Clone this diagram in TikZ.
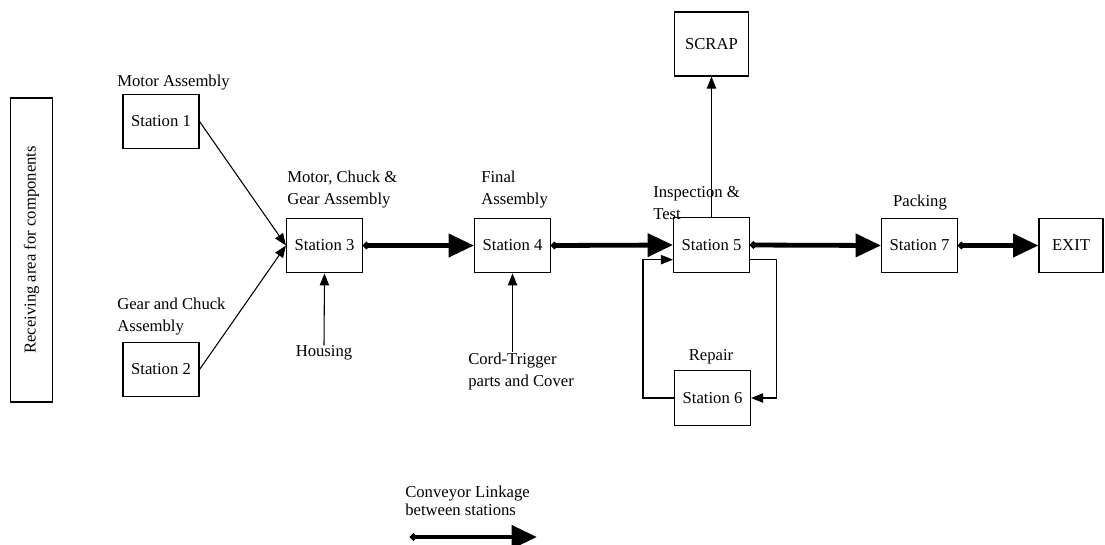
\documentclass[tikz,border=0pt]{standalone}
\usepackage{fontspec}
\setmainfont{Liberation Serif}
\usetikzlibrary{arrows.meta}

\tikzset{
  stn/.style={draw, line width=0.8pt, minimum width=57pt, minimum height=41pt, inner sep=0pt},
  lbl/.style={inner sep=0pt, align=left},
  feed/.style={line width=0.8pt, -{Triangle[length=9pt,width=7pt]}},
  conv/.style={line width=3.6pt, {Circle[length=5pt]}-{Triangle[length=19pt,width=17pt]}},
}

\begin{document}
\begin{tikzpicture}[x=0.75pt,y=-0.75pt,font=\fontsize{12.5}{16.5}\selectfont]
\useasboundingbox (0,0) rectangle (1105,544);

\node[stn, minimum width=31pt, minimum height=228pt](recv) at (31.5,250) {};
\node[rotate=90](recvt) at (31.5,250) {Receiving area for components};

\node[stn](s1) at (161,121.5) {Station 1};
\node[stn](s2) at (161,369.5) {Station 2};
\node[stn](s3) at (324.5,245.5) {Station 3};
\node[stn](s4) at (512.5,245.5) {Station 4};
\node[stn](s5) at (711.5,245) {Station 5};
\node[stn](s6) at (712.5,398) {Station 6};
\node[stn](s7) at (919.5,245.5) {Station 7};
\node[stn, minimum width=48pt](ex) at (1071,245.5) {EXIT};
\node[stn, minimum width=55.5pt, minimum height=48pt](scrap) at (711.5,44) {SCRAP};

\node[lbl, anchor=west](l1) at (117,83) {Motor Assembly};
\node[lbl, anchor=west](l2) at (117,317) {Gear and Chuck\\Assembly};
\node[lbl, anchor=west](l3) at (287,190) {Motor, Chuck \&\\Gear Assembly};
\node[lbl, anchor=west](l4) at (481,190) {Final\\Assembly};
\node[lbl, anchor=west](l5) at (653,203) {Inspection \&\\Test};
\node[lbl](l7) at (920,203) {Packing};
\node[lbl](l6) at (711,357) {Repair};
\node[lbl](hous) at (324,353) {Housing};
\node[lbl, anchor=west](cord) at (468,371) {Cord-Trigger\\parts and Cover};
\node[lbl, anchor=west, font=\fontsize{12.5}{13.5}\selectfont](lgt) at (405,501) {Conveyor Linkage\\between stations};

\coordinate (lg1) at (410,537);
\coordinate (lg2) at (537,537);

\draw[feed] (s1.east) -- (s3.west);
\draw[feed] (s2.east) -- (s3.west);
\draw[feed] (hous.north) -- (s3.south);
\draw[feed] (cord.north -| s4.south) -- (s4.south);
\draw[feed] (s5.north) -- (scrap.south);
\draw[feed] ([yshift=-11pt]s5.east) -- ++(26,0) |- (s6.east);
\draw[feed] (s6.west) -- ++(-31,0) |- ([yshift=-11pt]s5.west);

\draw[conv] (s3.east) -- (s4.west);
\draw[conv] (s4.east) -- (s5.west);
\draw[conv] (s5.east) -- (s7.west);
\draw[conv] (s7.east) -- (ex.west);
\draw[conv] (lg1) -- (lg2);

\end{tikzpicture}
\end{document}
